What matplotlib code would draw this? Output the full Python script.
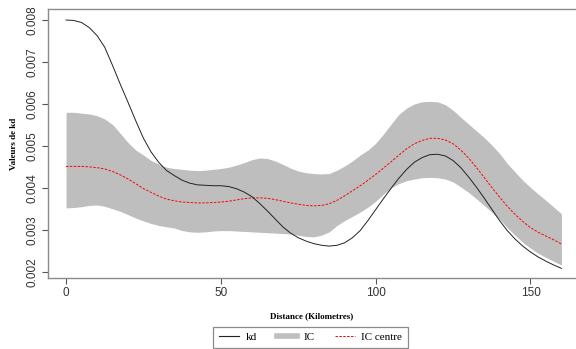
import numpy as np
import matplotlib
matplotlib.use('Agg')
import matplotlib.pyplot as plt
from matplotlib.lines import Line2D

#########################
#
# Values (every 2.5 km)
#
#########################

distance = np.arange(0, 160.1, 2.5)

kd = [0.00800, 0.00799, 0.00794, 0.00782, 0.00763, 0.00735, 0.00692, 0.00647,
      0.00604, 0.00560, 0.00518, 0.00485, 0.00460, 0.00441, 0.00429, 0.00418,
      0.00411, 0.00407, 0.00406, 0.00405, 0.00405, 0.00403, 0.00398, 0.00390,
      0.00379, 0.00363, 0.00345, 0.00326, 0.00307, 0.00292, 0.00281, 0.00273,
      0.00267, 0.00263, 0.00261, 0.00263, 0.00269, 0.00281, 0.00298, 0.00322,
      0.00348, 0.00374, 0.00399, 0.00423, 0.00444, 0.00461, 0.00472, 0.00479,
      0.00480, 0.00476, 0.00465, 0.00448, 0.00426, 0.00402, 0.00376, 0.00349,
      0.00322, 0.00298, 0.00278, 0.00261, 0.00247, 0.00235, 0.00225, 0.00216,
      0.00208]

ic_centre = [0.00451, 0.00451, 0.00451, 0.00450, 0.00448, 0.00445, 0.00439,
             0.00431, 0.00421, 0.00410, 0.00398, 0.00389, 0.00380, 0.00373,
             0.00369, 0.00366, 0.00365, 0.00364, 0.00364, 0.00365, 0.00366,
             0.00368, 0.00371, 0.00374, 0.00376, 0.00376, 0.00375, 0.00372,
             0.00368, 0.00364, 0.00361, 0.00358, 0.00357, 0.00358, 0.00362,
             0.00370, 0.00381, 0.00393, 0.00405, 0.00418, 0.00432, 0.00447,
             0.00462, 0.00478, 0.00493, 0.00505, 0.00513, 0.00518, 0.00518,
             0.00514, 0.00505, 0.00490, 0.00471, 0.00449, 0.00425, 0.00401,
             0.00378, 0.00356, 0.00337, 0.00320, 0.00305, 0.00294, 0.00285,
             0.00276, 0.00266]

ic_upper = [0.00580, 0.00580, 0.00578, 0.00576, 0.00572, 0.00564, 0.00551,
            0.00530, 0.00508, 0.00490, 0.00478, 0.00465, 0.00456, 0.00449,
            0.00446, 0.00444, 0.00442, 0.00441, 0.00442, 0.00444, 0.00446,
            0.00449, 0.00454, 0.00460, 0.00467, 0.00471, 0.00470, 0.00464,
            0.00456, 0.00447, 0.00440, 0.00436, 0.00434, 0.00433, 0.00434,
            0.00442, 0.00452, 0.00464, 0.00478, 0.00490, 0.00506, 0.00528,
            0.00552, 0.00575, 0.00590, 0.00600, 0.00605, 0.00606, 0.00605,
            0.00598, 0.00585, 0.00568, 0.00552, 0.00536, 0.00520, 0.00502,
            0.00482, 0.00458, 0.00438, 0.00418, 0.00401, 0.00385, 0.00370,
            0.00354, 0.00338]

ic_lower = [0.00352, 0.00353, 0.00355, 0.00358, 0.00359, 0.00356, 0.00350,
            0.00344, 0.00336, 0.00328, 0.00321, 0.00315, 0.00310, 0.00307,
            0.00304, 0.00298, 0.00295, 0.00294, 0.00295, 0.00297, 0.00298,
            0.00298, 0.00297, 0.00296, 0.00295, 0.00294, 0.00293, 0.00292,
            0.00291, 0.00290, 0.00287, 0.00284, 0.00283, 0.00287, 0.00295,
            0.00310, 0.00322, 0.00332, 0.00342, 0.00354, 0.00368, 0.00385,
            0.00400, 0.00410, 0.00417, 0.00421, 0.00424, 0.00425, 0.00424,
            0.00421, 0.00414, 0.00402, 0.00389, 0.00374, 0.00358, 0.00342,
            0.00325, 0.00305, 0.00287, 0.00270, 0.00256, 0.00244, 0.00234,
            0.00225, 0.00216]

x_ticks = [0, 50, 100, 150]
y_ticks = [0.002, 0.003, 0.004, 0.005, 0.006, 0.007, 0.008]

#########################
#
# Draw the chart
#
#########################

fig = plt.figure(figsize=(5.76, 3.49), dpi=100)
ax = fig.add_axes([0.0835, 0.2043, 0.9165, 0.7690])

ax.fill_between(distance, ic_lower, ic_upper, color='#bebebe', linewidth=0)
ax.plot(distance, ic_centre, color='red', linestyle=(0, (2.5, 1.5)), linewidth=0.7)
ax.plot(distance, kd, color='#222222', linewidth=0.7)

ax.set_xlim(-5.8, 164.7)
ax.set_ylim(0.001857, 0.008255)
ax.set_xticks(x_ticks)
ax.set_yticks(y_ticks)
ax.set_yticklabels(['%.3f' % v for v in y_ticks], rotation=90, va='center')

for side in ['top', 'left', 'bottom']:
    ax.spines[side].set_color('#8a8a8a')
    ax.spines[side].set_linewidth(1.0)
ax.spines['right'].set_visible(False)
ax.tick_params(colors='#555555', length=4, width=0.8, labelsize=8.5,
               labelcolor='#333333', pad=3)
for lab in ax.get_xticklabels() + ax.get_yticklabels():
    lab.set_family('Liberation Sans')

ax.set_xlabel('Distance (Kilometres)', family='Liberation Serif',
              fontweight='bold', fontsize=6.5, labelpad=9)
ax.set_ylabel('Valeurs de kd', family='Liberation Serif',
              fontweight='bold', fontsize=6.5, labelpad=6)

handles = [Line2D([], [], color='#222222', linewidth=0.8),
           Line2D([], [], color='#bebebe', linewidth=4),
           Line2D([], [], color='red', linestyle=(0, (2.5, 1.5)), linewidth=0.7)]
leg = fig.legend(handles, ['kd', 'IC', 'IC centre'], loc='upper center',
                 bbox_to_anchor=(0.539, 0.064), ncol=3, frameon=True,
                 fancybox=False, edgecolor='#6e6e6e', borderpad=0.5,
                 handlelength=1.8, columnspacing=1.8, handletextpad=0.6,
                 borderaxespad=0,
                 prop={'family': 'Liberation Serif', 'size': 8})
leg.get_frame().set_linewidth(0.9)

fig.savefig('out.png', dpi=100)
